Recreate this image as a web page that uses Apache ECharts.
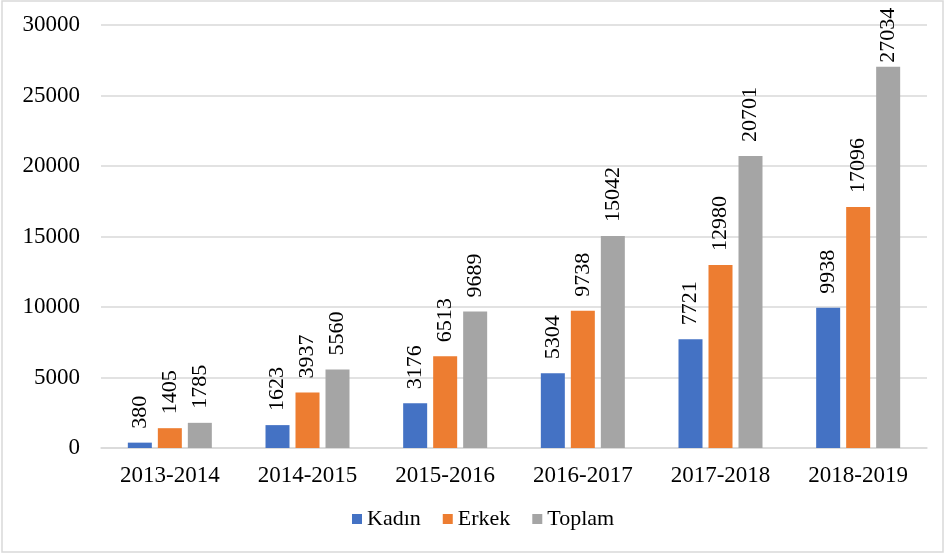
<!DOCTYPE html>
<html>
<head>
<meta charset="utf-8">
<script src="https://cdn.jsdelivr.net/npm/echarts@6/dist/echarts.min.js"></script>
<style>
  html, body { margin: 0; padding: 0; background: #fff; }
  #chart { width: 946px; height: 554px; }
</style>
</head>
<body>
<div id="chart"></div>
<script>
// 学年 categories
const years = ['2013-2014', '2014-2015', '2015-2016', '2016-2017', '2017-2018', '2018-2019'];
const kadin = [380, 1623, 3176, 5304, 7721, 9938];
const erkek = [1405, 3937, 6513, 9738, 12980, 17096];
const toplam = [1785, 5560, 9689, 15042, 20701, 27034];

const serif = '"Liberation Serif", "DejaVu Serif", serif';
const yMax = 30000;

const chart = echarts.init(document.getElementById('chart'));

// shared label style: rotated value above each bar
const valueLabel = {
  show: true,
  position: 'top',
  rotate: 90,
  align: 'left',
  verticalAlign: 'middle',
  distance: 14,
  color: '#000',
  fontFamily: serif,
  fontSize: 22
};

// bars close to the top get their label pulled in so it stays on the canvas
const toItems = data => data.map(v => (v > yMax * 0.88 ? { value: v, label: { distance: 4 } } : v));

const mkSeries = (name, data, color) => ({
  name,
  type: 'bar',
  data: toItems(data),
  barWidth: 24,
  barGap: '25%',
  itemStyle: { color },
  label: valueLabel
});

chart.setOption({
  animation: false,
  graphic: [{
    type: 'rect',
    shape: { x: 2, y: 1, width: 941, height: 551 },
    style: { fill: 'none', stroke: '#d9d9d9', lineWidth: 1.5 }
  }],
  grid: { left: 101, right: 19, top: 25, bottom: 106 },
  legend: {
    bottom: 19,
    left: 347,
    itemWidth: 10,
    itemHeight: 10,
    itemGap: 22,
    icon: 'rect',
    textStyle: { fontFamily: serif, fontSize: 22, color: '#000' },
    data: ['Kadın', 'Erkek', 'Toplam']
  },
  xAxis: {
    type: 'category',
    data: years,
    axisLine: { lineStyle: { color: '#d9d9d9', width: 1.5 } },
    axisTick: { show: false },
    axisLabel: { color: '#000', fontFamily: serif, fontSize: 23, margin: 16 }
  },
  yAxis: {
    type: 'value',
    min: 0,
    max: yMax,
    interval: 5000,
    axisLine: { show: false },
    axisTick: { show: false },
    splitLine: { lineStyle: { color: '#d9d9d9', width: 1.5 } },
    axisLabel: {
      color: '#000', fontFamily: serif, fontSize: 23, margin: 21,
      formatter: v => String(v)
    }
  },
  series: [
    mkSeries('Kadın', kadin, '#4472c4'),
    mkSeries('Erkek', erkek, '#ed7d31'),
    mkSeries('Toplam', toplam, '#a5a5a5')
  ]
});
</script>
</body>
</html>
